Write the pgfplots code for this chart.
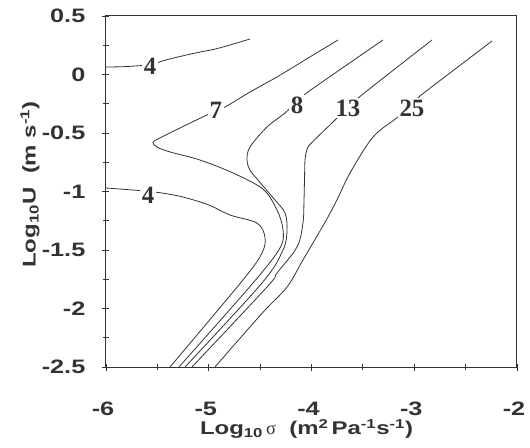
\documentclass[border=0pt]{standalone}
\usepackage{pgfplots}
\pgfplotsset{compat=1.18}
\usepackage{fontspec}
\setmainfont{Liberation Sans}
\newfontfamily\axfont{Liberation Sans}[FakeStretch=1.3]
\newfontfamily\lblfont{Liberation Serif}
\definecolor{ink}{HTML}{333333}
\pgfplotsset{cl/.style={ink, line width=0.8bp, mark=none, solid, smooth, tension=0.55}}
\begin{document}
\begin{tikzpicture}
\begin{axis}[name=ax, scale only axis, width=411bp, height=351bp,
  xmin=-6, xmax=-2, ymin=-2.5, ymax=0.5,
  xtick={-6,-5,-4,-3,-2}, xticklabels={-6,-5,-4,-3,-2},
  ytick={-2.5,-2,-1.5,-1,-0.5,0,0.5}, yticklabels={-2.5,-2,-1.5,-1,-0.5,0,0.5},
  minor x tick num=1, minor y tick num=1,
  tick pos=left, tick align=center,
  major tick length=7bp, minor tick length=6bp,
  axis line style={ink, line width=1bp},
  every tick/.style={ink, line width=0.9bp},
  xticklabel style={font=\axfont\bfseries\fontsize{19.5}{19.5}\selectfont, text=ink, anchor=center, inner sep=0pt, yshift=-38bp, xshift=-3bp},
  yticklabel style={font=\axfont\bfseries\fontsize{19.5}{19.5}\selectfont, text=ink, anchor=east, inner sep=0pt, xshift=-17bp},
  xlabel={Log\textsubscript{10}\,{\lblfont\mdseries σ}\ \ (m\textsuperscript{2}\,Pa\textsuperscript{-1}s\textsuperscript{-1})},
  ylabel={Log\textsubscript{10}U\ \ (m s\textsuperscript{-1})},
  xlabel style={font=\axfont\bfseries\fontsize{18.5}{18.5}\selectfont, text=ink, at={(axis description cs:0.5,0)}, anchor=center, yshift=-62bp, xshift=-5bp},
  ylabel style={font=\axfont\bfseries\fontsize{18.5}{18.5}\selectfont, text=ink, at={(axis description cs:-0.185,0.52)}, anchor=center},
]
% contour 4 (upper)
\addplot[cl] coordinates {(-6,0.064) (-5.8,0.068) (-5.57,0.085) (-5.426,0.122) (-5.25,0.16) (-5.085,0.192) (-4.95,0.215) (-4.822,0.245) (-4.60,0.303)};
% contour 4 (lower)
\addplot[cl] coordinates {(-6,-0.97) (-5.7,-0.99) (-5.59,-1.0) (-5.455,-1.013) (-5.251,-1.047) (-5.0,-1.115) (-4.793,-1.201) (-4.53,-1.27) (-4.453,-1.389) (-4.482,-1.526) (-4.667,-1.756) (-5.377,-2.5)};
% contour 7
\addplot[cl] coordinates {(-3.742,0.295) (-4.015,0.150) (-4.336,-0.021) (-4.599,-0.150) (-4.842,-0.278) (-5.017,-0.346) (-5.28,-0.457) (-5.48,-0.545) (-5.543,-0.58) (-5.504,-0.62) (-5.377,-0.662) (-5.085,-0.731) (-4.764,-0.842) (-4.472,-0.98) (-4.336,-1.158) (-4.277,-1.329) (-4.307,-1.483) (-4.569,-1.782) (-5.29,-2.5)};
% contour 8
\addplot[cl] coordinates {(-3.304,0.295) (-3.966,-0.107) (-4.131,-0.22) (-4.258,-0.329) (-4.433,-0.449) (-4.599,-0.62) (-4.628,-0.731) (-4.599,-0.817) (-4.521,-0.902) (-4.355,-1.073) (-4.258,-1.184) (-4.238,-1.329) (-4.277,-1.5) (-4.482,-1.782) (-5.231,-2.5)};
% contour 13
\addplot[cl] coordinates {(-2.827,0.295) (-3.499,-0.167) (-3.645,-0.28) (-3.771,-0.389) (-4.0,-0.585) (-4.044,-0.64) (-4.063,-0.731) (-4.068,-0.9) (-4.073,-1.073) (-4.083,-1.269) (-4.141,-1.474) (-4.336,-1.697) (-4.433,-1.816) (-5.163,-2.5)};
% contour 25
\addplot[cl] coordinates {(-2.243,0.286) (-2.895,-0.150) (-3.022,-0.25) (-3.158,-0.363) (-3.401,-0.534) (-3.625,-0.842) (-3.74,-1.05) (-3.86,-1.25) (-4.083,-1.585) (-4.238,-1.816) (-4.48,-2.04) (-4.94,-2.5)};
\tikzset{clab/.style={font=\lblfont\bfseries\fontsize{25}{25}\selectfont, text=ink, fill=white, inner sep=1.5bp}}
\node[clab] at (axis cs:-5.57,0.07) {4};
\node[clab] at (axis cs:-5.59,-1.03) {4};
\node[clab] at (axis cs:-4.93,-0.31) {7};
\node[clab] at (axis cs:-4.14,-0.26) {8};
\node[clab] at (axis cs:-3.645,-0.286) {13};
\node[clab] at (axis cs:-3.022,-0.286) {25};
\end{axis}
\pgfresetboundingbox
\path ([shift={(-106bp,-81bp)}]ax.south west) rectangle ([shift={(13bp,16bp)}]ax.north east);
\end{tikzpicture}
\end{document}
